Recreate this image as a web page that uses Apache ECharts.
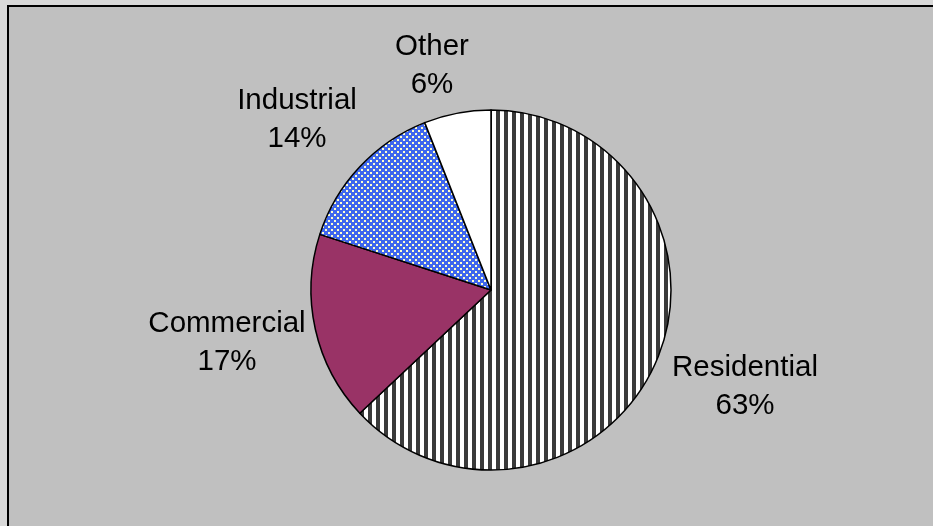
<!DOCTYPE html>
<html>
<head>
<meta charset="utf-8">
<script src="https://cdn.jsdelivr.net/npm/echarts@6/dist/echarts.min.js"></script>
<style>
  html, body { margin: 0; padding: 0; background: #d9d9d9; }
  #chart { width: 933px; height: 526px; }
</style>
</head>
<body>
<div id="chart"></div>
<script>
// Electricity use by sector (share of total, %)
const categories = ['Residential', 'Commercial', 'Industrial', 'Other'];
const shares = [63, 17, 14, 6];

// Label anchor points (block centres) for each sector, in px
const labelAnchors = [[745, 387], [227, 343], [297, 120], [432, 66]];

// Fill patterns drawn on small canvases
function stripePattern() {
  const c = document.createElement('canvas');
  c.width = 8; c.height = 8;
  const g = c.getContext('2d');
  g.fillStyle = '#ffffff';
  g.fillRect(0, 0, 8, 8);
  g.fillStyle = '#3a3a3a';
  g.fillRect(0, 0, 4, 8);
  return { image: c, repeat: 'repeat' };
}
function dotPattern() {
  const c = document.createElement('canvas');
  c.width = 6; c.height = 6;
  const g = c.getContext('2d');
  g.fillStyle = '#3f67ee';
  g.fillRect(0, 0, 6, 6);
  g.fillStyle = '#ffffcc';
  g.fillRect(1, 1, 2, 2);
  g.fillRect(4, 4, 2, 2);
  return { image: c, repeat: 'repeat' };
}

const fills = [stripePattern(), '#993366', dotPattern(), '#ffffff'];

const chart = echarts.init(document.getElementById('chart'), null, { renderer: 'canvas' });
chart.setOption({
  backgroundColor: '#d9d9d9',
  animation: false,
  graphic: [{
    type: 'rect',
    shape: { x: 8, y: 6, width: 940, height: 540 },
    style: { fill: '#c0c0c0', stroke: '#000000', lineWidth: 2 },
    z: -10
  }],
  series: [{
    type: 'pie',
    center: [491, 290],
    radius: 180,
    startAngle: 90,
    clockwise: true,
    data: categories.map((name, i) => ({
      name,
      value: shares[i],
      itemStyle: { color: fills[i] }
    })),
    itemStyle: { borderColor: '#000000', borderWidth: 1.5 },
    emphasis: { disabled: true },
    labelLine: { show: false },
    label: {
      show: true,
      position: 'outside',
      formatter: '{b}\n{d}%',
      fontFamily: 'Liberation Sans, Arial, sans-serif',
      fontSize: 29.5,
      lineHeight: 38,
      color: '#000000',
      align: 'center'
    },
    labelLayout: function (params) {
      const a = labelAnchors[params.dataIndex];
      return { x: a[0], y: a[1], align: 'center', verticalAlign: 'middle', hideOverlap: false };
    }
  }]
});
</script>
</body>
</html>
